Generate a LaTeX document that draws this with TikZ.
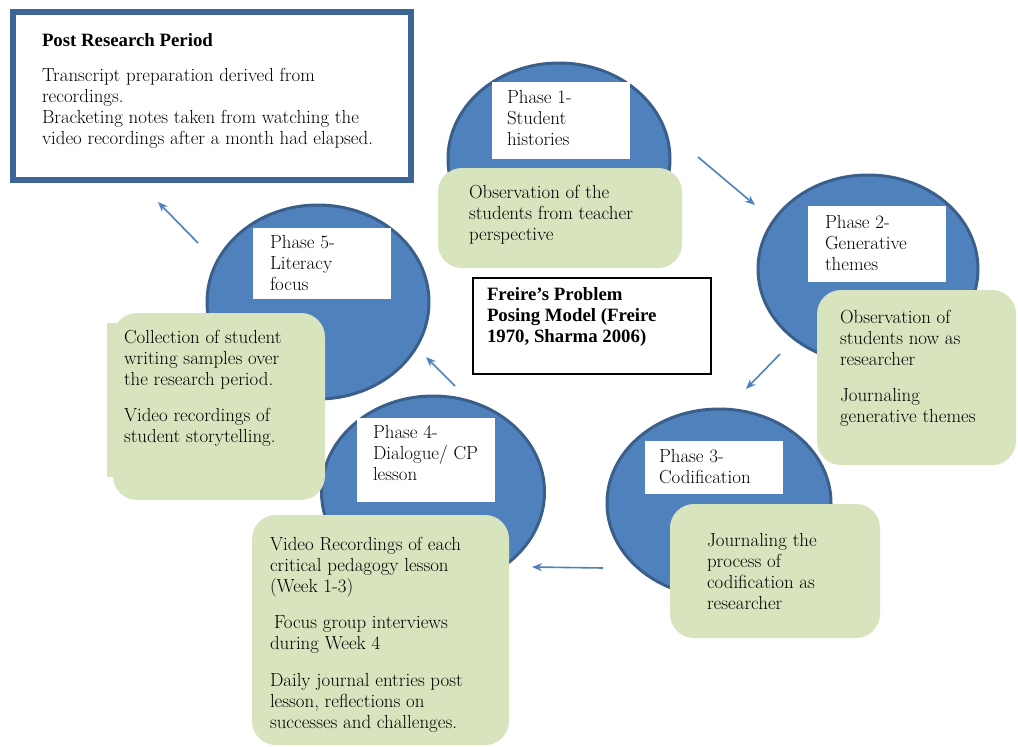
\documentclass[tikz,border=0pt]{standalone}
\usepackage{fontspec}
\newfontfamily\tnr{Liberation Serif}
\usetikzlibrary{shapes.geometric,arrows.meta}
\definecolor{phblue}{HTML}{4F81BD}
\definecolor{phedge}{HTML}{3A5F8B}
\definecolor{notegreen}{HTML}{D7E4BD}
\definecolor{postedge}{HTML}{3D6496}
\begin{document}
\begin{tikzpicture}[x=1pt,y=-1pt,
  phase/.style={ellipse, draw=phedge, line width=3pt, fill=phblue,
    minimum width=222pt, minimum height=192pt, inner sep=0pt, outer sep=0pt},
  tagbox/.style={rectangle, fill=white, inner sep=0pt, outer sep=0pt, anchor=north west},
  notebox/.style={rectangle, fill=notegreen, rounded corners=24pt, inner sep=0pt, outer sep=0pt, anchor=north west},
  plainbox/.style={rectangle, fill=notegreen, inner sep=0pt, outer sep=0pt, anchor=north west},
  txt/.style={anchor=north west, inner sep=0pt, outer sep=0pt, align=left,
    font=\fontsize{18.9}{21}\selectfont},
  boldtxt/.style={txt, font=\tnr\fontsize{18.8}{21}\selectfont\bfseries},
  flow/.style={draw=phblue, line width=1.6pt, -{Stealth[length=10pt,width=8pt]}}
]
\useasboundingbox (0,0) rectangle (1018,747);
\fill[white] (0,0) rectangle (1018,747);

% post research box
\node[rectangle, draw=postedge, line width=6pt, fill=white, minimum width=398pt,
  minimum height=168pt, inner sep=0pt, outer sep=0pt, anchor=north west] (post) at (13,12) {};
\node[boldtxt] (posttitle) at (42,33) {\rule{0pt}{13pt}Post Research Period};
\node[txt] (postbody) at (42,68) {\rule{0pt}{13pt}Transcript preparation derived from\\recordings.\\Bracketing notes taken from watching the\\video recordings after a month had elapsed.};

% ellipses
\node[phase] (e1) at (559,159) {};
\node[phase, minimum width=220pt, minimum height=188pt] (e2) at (868,269) {};
\node[phase, minimum width=224pt, minimum height=188pt] (e3) at (719,503) {};
\node[phase, minimum width=223pt] (e4) at (433,492) {};
\node[phase, minimum width=222pt, minimum height=194pt] (e5) at (318,302) {};

% white label boxes
\node[tagbox, minimum width=138pt, minimum height=77pt] (t1) at (492,82) {};
\node[tagbox, minimum width=138pt, minimum height=76pt] (t2) at (808,206) {};
\node[tagbox, minimum width=138pt, minimum height=53pt] (t3) at (645,441) {};
\node[tagbox, minimum width=138pt, minimum height=84pt] (t4) at (357,418) {};
\node[tagbox, minimum width=138pt, minimum height=71pt] (t5) at (253,228) {};

\node[txt] (p1) at (507,90) {\rule{0pt}{13pt}Phase 1-\\Student\\histories};
\node[txt] (p2) at (825,215) {\rule{0pt}{13pt}Phase 2-\\Generative\\themes};
\node[txt] (p3) at (659,449) {\rule{0pt}{13pt}Phase 3-\\Codification};
\node[txt] (p4) at (373,425) {\rule{0pt}{13pt}Phase 4-\\Dialogue/ CP\\lesson};
\node[txt] (p5) at (270,235) {\rule{0pt}{13pt}Phase 5-\\Literacy\\focus};

% green note boxes
\node[notebox, minimum width=244pt, minimum height=100pt] (g1) at (438,168) {};
\node[notebox, minimum width=199pt, minimum height=175pt] (g2) at (817,290) {};
\node[notebox, minimum width=210pt, minimum height=134pt] (g3) at (670,504) {};
\node[notebox, minimum width=257pt, minimum height=230pt] (g4) at (252,515) {};
\node[notebox, minimum width=212pt, minimum height=187pt] (g5) at (113,313) {};
\node[plainbox, minimum width=23pt, minimum height=154pt] (g5tab) at (107,323) {};

\node[txt] (n1) at (469,185) {\rule{0pt}{13pt}Observation of the\\students from teacher\\perspective};
\node[txt] (n2) at (840,310) {\rule{0pt}{13pt}Observation of\\students now as\\researcher\\[15.5pt]Journaling\\generative themes};
\node[txt] (n3) at (707,533) {\rule{0pt}{13pt}Journaling the\\process of\\codification as\\researcher};
\node[txt] (n4) at (270,537) {\rule{0pt}{13pt}Video Recordings of each\\critical pedagogy lesson\\(Week 1-3)\\[15.5pt]\hspace{4pt}Focus group interviews\\during Week 4\\[15.5pt]Daily journal entries post\\lesson, reflections on\\successes and challenges.};
\node[txt] (n5) at (124,330) {\rule{0pt}{13pt}Collection of student\\writing samples over\\the research period.\\[15.5pt]Video recordings of\\student storytelling.};

% centre title box
\node[rectangle, draw=black, line width=1.8pt, fill=white, minimum width=238pt,
  minimum height=96pt, inner sep=0pt, outer sep=0pt, anchor=north west] (model) at (473,278) {};
\node[boldtxt] (modeltxt) at (487,287) {\rule{0pt}{13pt}Freire’s Problem\\Posing Model (Freire\\1970, Sharma 2006)};

% arrows
\coordinate (a1s) at (698,157); \coordinate (a1e) at (755,205);
\coordinate (a2s) at (780,354); \coordinate (a2e) at (746,389);
\coordinate (a3s) at (603,568); \coordinate (a3e) at (532,567);
\coordinate (a4s) at (455,386); \coordinate (a4e) at (426,357);
\coordinate (a5s) at (198,243); \coordinate (a5e) at (158,202);
\draw[flow] (a1s) -- (a1e);
\draw[flow] (a2s) -- (a2e);
\draw[flow] (a3s) -- (a3e);
\draw[flow] (a4s) -- (a4e);
\draw[flow] (a5s) -- (a5e);
\end{tikzpicture}
\end{document}
